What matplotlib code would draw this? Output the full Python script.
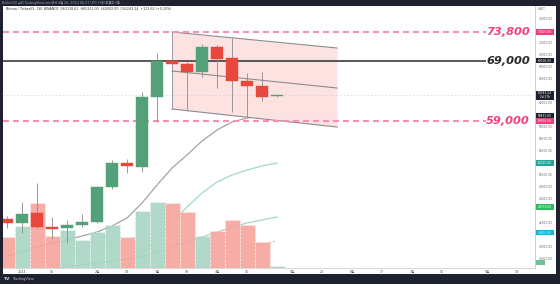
import numpy as np
import matplotlib
matplotlib.use("Agg")
import matplotlib.pyplot as plt
from matplotlib.patches import Rectangle

plt.rcParams['font.family'] = ['DejaVu Sans', 'Noto Sans CJK KR']
plt.rcParams['lines.scale_dashes'] = False

# weekly candles, index 0 = week of 2023-12-25
opens  = [42667, 42000, 43667, 41333, 41167, 41667, 42167, 48000, 52000, 51333,
          63000, 69000, 68500, 67167, 71333, 69500, 65667, 64833, 63100]
closes = [42000, 43500, 41333, 41000, 41667, 42167, 48000, 52000, 51500, 63000,
          69000, 68500, 67167, 71333, 69333, 65667, 64833, 63000, 63250]
highs  = [43167, 45500, 48667, 43000, 42500, 43500, 48167, 52500, 52667, 63833,
          70333, 73800, 68833, 71833, 71667, 72833, 67000, 67167, 63300]
lows   = [41167, 40333, 41167, 39500, 38667, 41333, 42000, 47667, 50333, 50500,
          58833, 61000, 60833, 66333, 64500, 60500, 59667, 62333, 63000]
volumes = [186, 252, 390, 192, 228, 168, 216, 258, 186, 342,
           396, 390, 336, 192, 222, 288, 258, 156, 12]   # K BTC

ma_gray = [36549, 37214, 38045, 38711, 39210, 39875, 40540, 41538, 42870, 45363,
           48357, 51184, 53345, 55673, 57503, 58833, 59498, 59748, 59831]
ma_teal_a_x = list(range(7, 19))
ma_teal_a = [32500, 34553, 37214, 39210, 42203, 44698, 47026, 48855, 50019, 50851, 51516, 52015]
ma_teal_b_x = list(range(3, 19))
ma_teal_b = [34387, 34720, 35052, 35385, 35717, 36050, 36383, 37214, 38045, 38877,
             39708, 40540, 41372, 42037, 42536, 43035]
ma_dot_x = list(range(11, 19))
ma_dot = [33555, 34553, 35551, 36383, 37214, 37879, 38544, 39043]

levels = [73800, 69000, 59000]
level_labels = ["73,800", "69,000", "59,000"]
last_price = 63243.24

channel_x = [11, 22]
channel_top = [73800, 71139]
channel_mid = [67314, 64487]
channel_bot = [60995, 57999]

time_idx = [1, 3, 6, 8, 10, 12, 14, 16, 19, 21, 23, 25, 27, 29, 32, 34]
time_lbl = ["2024", "15", "2월", "19", "3월", "18", "4월", "15",
            "5월", "20", "6월", "17", "7월", "15", "8월", "19"]

tag_prices = [73800, 69000, 59831, 59000, 52015, 44700, 40400]
tag_colors = ['#f23b7a', '#1e222d', '#1e222d', '#f23b7a', '#26a69a', '#2ebd5c', '#00bcd4']
axis_prices = list(range(36000, 78000, 2000))

GREEN, RED = '#53a079', '#e8483c'
VGREEN, VRED = '#a9d5c3', '#f6a49d'
PINK, PINKTXT = '#f590b4', '#f2417b'
YLIM = (34554, 78124)
XLIM = (-0.27, 35.2)

W, H = 560, 284
fig = plt.figure(figsize=(W / 100, H / 100), dpi=100, facecolor='#1e2230')

def rect(x0, y0, x1, y1):
    # pixel box (top-left origin) -> figure fraction
    return [x0 / W, 1 - y1 / H, (x1 - x0) / W, (y1 - y0) / H]

bg = fig.add_axes(rect(3, 6, 556, 274), zorder=-5)
bg.set_facecolor('white')
bg.set_xticks([]); bg.set_yticks([])
for s in bg.spines.values():
    s.set_visible(False)

# back layer: moving averages
mx = fig.add_axes(rect(3, 6, 535, 268))
mx.set_xlim(*XLIM); mx.set_ylim(*YLIM); mx.axis('off')
mx.plot(range(len(ma_gray)), ma_gray, color='#a3a3a3', lw=0.9)
mx.plot(ma_teal_a_x, ma_teal_a, color='#9fd9c6', lw=0.9)
mx.plot(ma_teal_b_x, ma_teal_b, color='#9fd9c6', lw=0.9)
mx.plot(ma_dot_x, ma_dot, color='#c09a9a', lw=0.8, ls=':')

# volume layer
vx = fig.add_axes(rect(3, 6, 535, 268), sharex=mx)
vx.set_ylim(0, 1572); vx.axis('off')
vcol = [VGREEN if c >= o else VRED for o, c in zip(opens, closes)]
vx.bar(range(len(volumes)), volumes, width=1.0, color=vcol, alpha=0.9,
       edgecolor='white', linewidth=0.5, linestyle=':')

# main price layer
ax = fig.add_axes(rect(3, 6, 535, 268), sharex=mx)
ax.set_ylim(*YLIM)
ax.patch.set_alpha(0)
for s in ['top', 'left', 'right']:
    ax.spines[s].set_visible(False)
ax.spines['bottom'].set_color('#d0d0d0')
ax.spines['bottom'].set_linewidth(0.6)
ax.set_yticks([])
ax.set_xticks(time_idx, time_lbl)
ax.tick_params(axis='x', length=0, pad=1.2, labelsize=2.3, labelcolor='#555555')
ax.set_xlim(*XLIM)

ax.fill_between(channel_x, channel_bot, channel_top, color='#fde2e2', zorder=1, lw=0)
for edge in (channel_top, channel_mid, channel_bot):
    ax.plot(channel_x, edge, color='#8c8c8c', lw=0.8, zorder=2)

x_end = 31.9
ax.hlines(levels[1], XLIM[0], x_end, color='#4a4a4a', lw=1.3, zorder=3)
for lv in (levels[0], levels[2]):
    ax.hlines(lv, XLIM[0], x_end, color=PINK, lw=1.5, zorder=3,
              linestyles=[(0, (4.3, 2.9))])
ax.hlines(last_price, XLIM[0], XLIM[1], color='#cfcfcf', lw=0.5, ls=(0, (1, 1.5)), zorder=2)
for lv, lb in zip(levels, level_labels):
    c = '#2a2a2a' if lv == 69000 else PINKTXT
    ax.text(0.9906, lv, lb, transform=ax.get_yaxis_transform(), ha='right', va='center',
            fontsize=8.2, fontweight='bold', fontstyle='italic', color=c, zorder=5)

idx = np.arange(len(opens))
o, c = np.array(opens), np.array(closes)
up = c >= o
col = np.where(up, GREEN, RED)
ax.vlines(idx, lows, highs, color='#8a8a8a', lw=0.6, zorder=4)
body = np.maximum(np.abs(c - o), 150)
ax.bar(idx, body, bottom=np.minimum(o, c), width=0.74, color=col, edgecolor=col,
       lw=0.3, zorder=5)

# price scale
px = fig.add_axes(rect(535, 6, 556, 268))
px.set_xlim(0, 1); px.set_ylim(*YLIM)
px.set_xticks([]); px.set_yticks([])
for s in ['top', 'right', 'bottom']:
    px.spines[s].set_visible(False)
px.spines['left'].set_color('#c8c8c8')
px.spines['left'].set_linewidth(0.6)
px.patch.set_alpha(0)
step = (YLIM[1] - YLIM[0]) / 262
busy = tag_prices + [last_price]
for p in axis_prices:
    if min(abs(p - b) for b in busy) < 5 * step:
        continue
    px.text(0.5, p, f"{p:.2f}", ha='center', va='center', fontsize=2.1, color='#666666')
px.text(0.3, YLIM[1] - 3 * step, "USDT", ha='center', va='center', fontsize=2.1, color='#666666')
for p, tc in zip(tag_prices, tag_colors):
    px.add_patch(Rectangle((0.04, p - 2.6 * step), 0.88, 5.2 * step, color=tc, lw=0))
    px.text(0.48, p, f"{p:.2f}", ha='center', va='center', fontsize=2.1, color='white')
px.add_patch(Rectangle((0.04, last_price - 4.5 * step), 0.88, 9 * step, color='#1e222d', lw=0))
px.text(0.48, last_price + 2 * step, f"{last_price:.2f}", ha='center', va='center',
        fontsize=2.1, color='white')
px.text(0.48, last_price - 2 * step, "2d 17h", ha='center', va='center',
        fontsize=2.1, color='white')
px.add_patch(Rectangle((0.04, 34554 + 3 * step), 0.42, 5 * step, color='#6fbf8f', lw=0))

# header texts
fig.text(2 / W, 1 - 2.5 / H, "Bullish00 님이 TradingView.com에서 4월 26, 2024 06:27 UTC+9에 퍼블리시함",
         fontsize=2.3, color='#9aa0ad', va='center')
fig.text(6 / W, 1 - 9.5 / H,
         "Bitcoin / TetherUS, 1W, BINANCE  O63118.62  H65321.00  L60002.00  C63243.24  +123.62 (+0.20%)",
         fontsize=2.3, color='#333333', va='center')
fig.text(4 / W, 1 - 279 / H, "TV", fontsize=3.2, fontweight='bold', color='#d8d8d8', va='center')
fig.text(12 / W, 1 - 279 / H, "TradingView", fontsize=2.6, color='#b8b8b8', va='center')

fig.savefig("out.png", dpi=100, facecolor=fig.get_facecolor())
